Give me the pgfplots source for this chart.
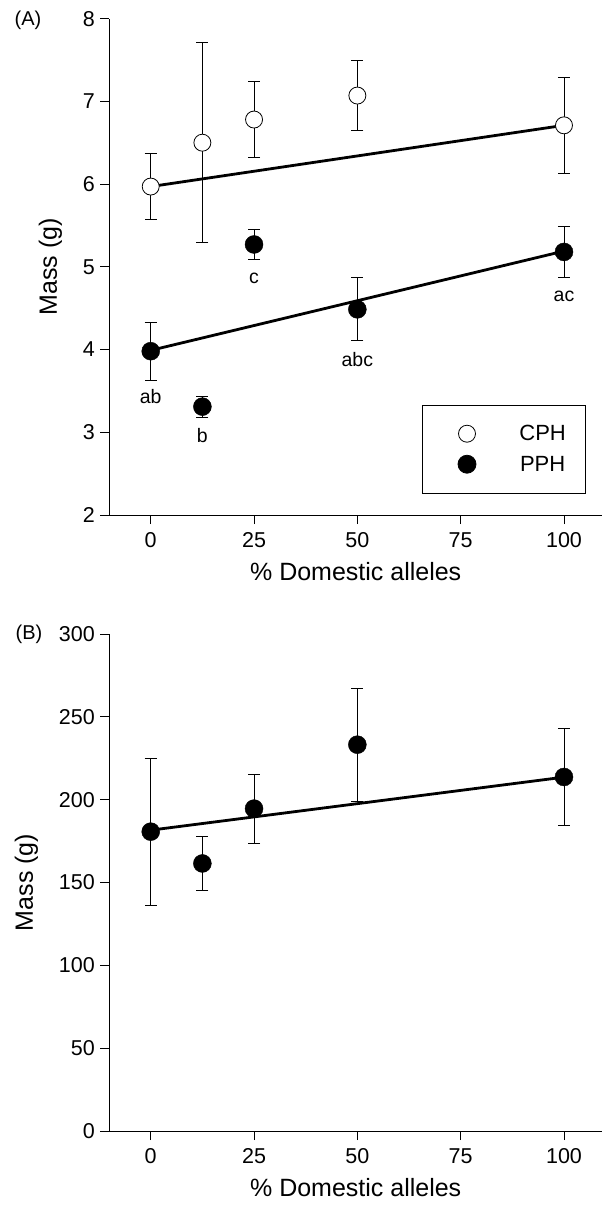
\documentclass[border=0pt]{standalone}
\usepackage{fontspec}
\setmainfont{Liberation Sans}
\usepackage{pgfplots}
\pgfplotsset{compat=1.18}
\pgfplotsset{
  panel/.style={
    scale only axis, width=492.6pt, height=496.4pt,
    xmin=-10, xmax=109.2,
    axis lines=left, axis line style={-, line width=0.8pt, black},
    tick align=outside, major tick length=9pt,
    tick style={line width=0.8pt, black},
    xtick={0,25,50,75,100},
    ticklabel style={font=\fontsize{21.5}{25}\selectfont},
    xticklabel style={yshift=-5pt},
    yticklabel style={xshift=-2pt},
    /pgf/number format/assume math mode=true,
    label style={font=\fontsize{25}{29}\selectfont},
    xlabel={\% Domestic alleles},
    ylabel={Mass (g)},
    xlabel style={yshift=-8pt},
    ylabel style={yshift=14pt},
    clip=false,
  },
  ebar/.style={
    error bars/.cd, y dir=both, y explicit,
    error bar style={line width=0.8pt, black},
    error mark options={rotate=90, mark size=6pt, line width=0.8pt, black},
  },
}
\begin{document}
\begin{tikzpicture}
\path[use as bounding box] (0,0) rectangle (602pt,-1205pt);
\begin{axis}[panel, at={(109.4pt,-515pt)}, anchor=south west,
  ymin=2, ymax=8, ytick={2,3,4,5,6,7,8},
  legend style={at={(0.635,0.222)}, anchor=north west, draw=black, line width=0.8pt,
    inner xsep=20pt, inner ysep=20pt, row sep=13pt,
    font=\fontsize{22}{26}\selectfont,
    nodes={inner sep=0pt},
    /tikz/every odd column/.append style={column sep=43pt}},
  legend image code/.code={\path (-24pt,0pt) (9pt,0pt); \draw plot coordinates {(0pt,0pt)};},
]
\addlegendimage{only marks, mark=*, mark size=8.5pt, mark options={fill=white, draw=black, line width=0.8pt}}
\addlegendentry{CPH}
\addlegendimage{only marks, mark=*, mark size=9pt, mark options={fill=black, draw=black}}
\addlegendentry{PPH}
% CPH
\addplot[only marks, mark=*, mark size=8.5pt, mark options={fill=white, draw=black, line width=0.8pt}, ebar]
  coordinates {(0,5.97) +- (0,0.40) (12.5,6.50) +- (0,1.21) (25,6.78) +- (0,0.455) (50,7.07) +- (0,0.42) (100,6.71) +- (0,0.585)};
% PPH
\addplot[only marks, mark=*, mark size=9pt, mark options={fill=black, draw=black}, ebar]
  coordinates {(0,3.98) +- (0,0.35) (12.5,3.31) +- (0,0.125) (25,5.27) +- (0,0.177) (50,4.486) +- (0,0.38) (100,5.18) +- (0,0.31)};
\addplot[no marks, line width=2.8pt, black] coordinates {(0,5.97) (100,6.71)};
\addplot[no marks, line width=2.8pt, black] coordinates {(0,3.99) (100,5.19)};
\begin{scope}[every node/.style={font=\fontsize{19.5}{22}\selectfont, inner sep=0pt}]
\node at (axis cs:0,3.427) {ab};
\node at (axis cs:12.5,2.957) {b};
\node at (axis cs:25,4.86) {c};
\node at (axis cs:50,3.88) {abc};
\node at (axis cs:100,4.644) {ac};
\end{scope}
\end{axis}
\node[font=\fontsize{20}{24}\selectfont] at (28pt,-20pt) {(A)};
\begin{axis}[panel, at={(109.4pt,-1131pt)}, anchor=south west, height=497pt,
  ymin=0, ymax=300, ytick={0,50,100,150,200,250,300}]
\addplot[only marks, mark=*, mark size=9pt, mark options={fill=black, draw=black}, ebar]
  coordinates {(0,180.7) +- (0,44.3) (12.5,161.5) +- (0,16.5) (25,194.6) +- (0,20.8) (50,233.2) +- (0,34.1) (100,213.7) +- (0,29.1)};
\addplot[no marks, line width=2.8pt, black] coordinates {(0,181.6) (100,213.6)};
\end{axis}
\node[font=\fontsize{20}{24}\selectfont] at (29pt,-634pt) {(B)};
\end{tikzpicture}
\end{document}
